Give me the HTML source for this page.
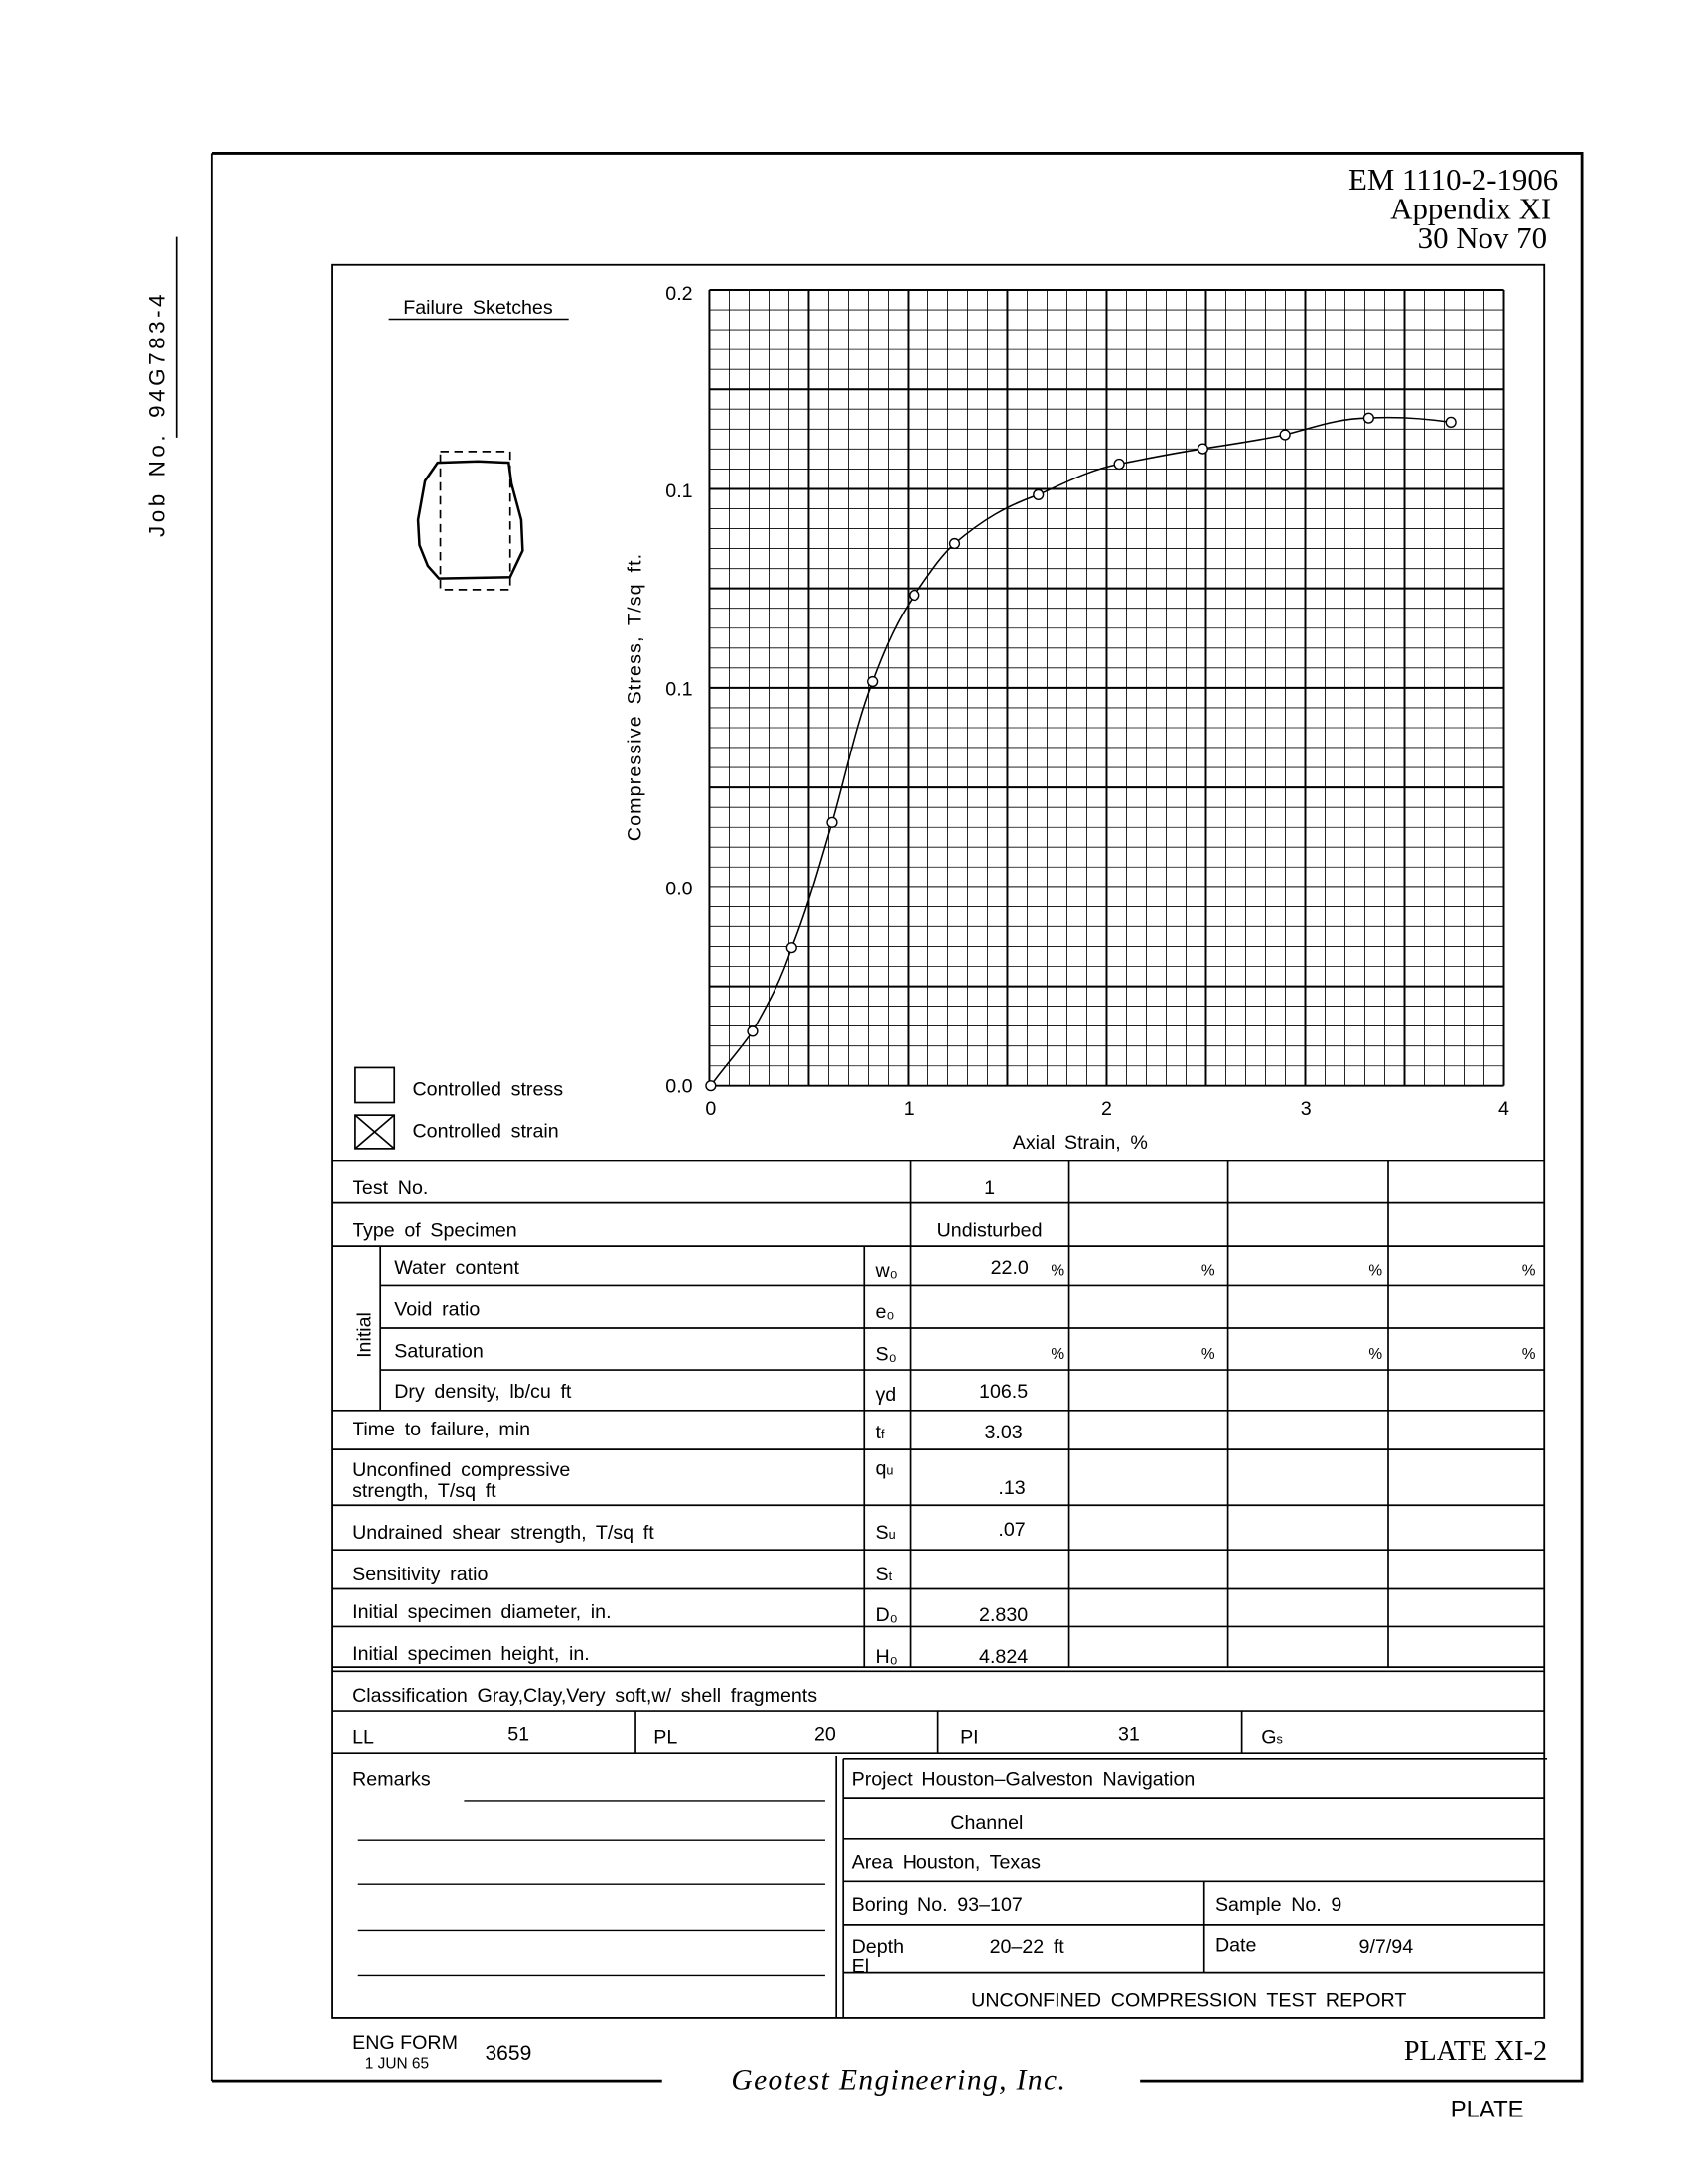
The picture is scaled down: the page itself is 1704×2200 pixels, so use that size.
<!DOCTYPE html>
<html><head><meta charset="utf-8"><style>
html,body{margin:0;padding:0;background:#fff;}
svg{display:block}
text{font-family:"Liberation Sans",sans-serif;fill:#000}
.s{font-family:"Liberation Serif",serif}
.w{word-spacing:3px}
</style></head><body>
<svg width="1704" height="2200" viewBox="0 0 1214 1567" preserveAspectRatio="none" xmlns="http://www.w3.org/2000/svg">
<g stroke="#000" fill="none">
<path d="M152,110 H1135 V1493 H818 M475,1493 H152 Z" stroke-width="2"/>
<line x1="152" y1="110" x2="152" y2="1493" stroke-width="2"/>
<line x1="126.6" y1="170" x2="126.6" y2="314" stroke-width="1.2"/>
<rect x="238" y="190" width="870" height="1258" stroke-width="1.3"/>
</g>
<text x="118" y="297" font-size="16" letter-spacing="2.5" class="w" transform="rotate(-90 118 297)" text-anchor="middle">Job No.  94G783-4</text>
<text class="s" x="1118" y="136" font-size="22" text-anchor="end">EM 1110-2-1906</text>
<text class="s" x="1113" y="157" font-size="22" text-anchor="end">Appendix XI</text>
<text class="s" x="1110" y="178" font-size="22" text-anchor="end">30 Nov 70</text>

<text x="343" y="225" font-size="14" text-anchor="middle" class="w">Failure Sketches</text>
<line x1="279" y1="229" x2="408" y2="229" stroke="#000"/>
<g stroke="#000" fill="none">
<rect x="316" y="324" width="50" height="99" stroke-dasharray="6,4" stroke-width="1.2"/>
<path d="M314,332 L343,331 L365,332 L367,347 L374,373 L375,395 L366,414 L315,415 L307,406 L301,391 L300,373 L305,345 Z" stroke-width="1.8"/>
</g>

<g stroke="#000" fill="none" stroke-width="1.2">
<rect x="255" y="766" width="28" height="25"/>
<rect x="255" y="800" width="28" height="24"/>
<path d="M255,800 L283,824 M283,800 L255,824"/>
</g>
<text x="296" y="786" font-size="14" class="w">Controlled stress</text>
<text x="296" y="816" font-size="14" class="w">Controlled strain</text>

<g stroke="#000" stroke-width="0.6">
<path d="M509,208V779M523.25,208V779M537.5,208V779M551.75,208V779M566,208V779M580.25,208V779M594.5,208V779M608.75,208V779M623,208V779M637.25,208V779M651.5,208V779M665.75,208V779M680,208V779M694.25,208V779M708.5,208V779M722.75,208V779M737,208V779M751.25,208V779M765.5,208V779M779.75,208V779M794,208V779M808.25,208V779M822.5,208V779M836.75,208V779M851,208V779M865.25,208V779M879.5,208V779M893.75,208V779M908,208V779M922.25,208V779M936.5,208V779M950.75,208V779M965,208V779M979.25,208V779M993.5,208V779M1007.75,208V779M1022,208V779M1036.25,208V779M1050.5,208V779M1064.75,208V779M1079,208V779"/>
<path d="M509,208H1079M509,222.3H1079M509,236.5H1079M509,250.8H1079M509,265.1H1079M509,279.4H1079M509,293.6H1079M509,307.9H1079M509,322.2H1079M509,336.5H1079M509,350.8H1079M509,365H1079M509,379.3H1079M509,393.6H1079M509,407.9H1079M509,422.1H1079M509,436.4H1079M509,450.7H1079M509,465H1079M509,479.2H1079M509,493.5H1079M509,507.8H1079M509,522.1H1079M509,536.3H1079M509,550.6H1079M509,564.9H1079M509,579.2H1079M509,593.5H1079M509,607.7H1079M509,622H1079M509,636.3H1079M509,650.6H1079M509,664.8H1079M509,679.1H1079M509,693.4H1079M509,707.7H1079M509,721.9H1079M509,736.2H1079M509,750.5H1079M509,764.8H1079M509,779H1079"/>
</g>
<g stroke="#000" stroke-width="1.4">
<path d="M509,208V779M580.25,208V779M651.5,208V779M722.75,208V779M794,208V779M865.25,208V779M936.5,208V779M1007.75,208V779M1079,208V779"/>
<path d="M509,208H1079M509,279.4H1079M509,350.8H1079M509,422.1H1079M509,493.5H1079M509,564.9H1079M509,636.3H1079M509,707.7H1079M509,779H1079"/>
</g>
<path d="M510,779 C520,765 532,752 540,740 C550,722 560,705 568,680 C580,650 588,620 597,590 C607,555 614,520 626,489 C636,462 644,445 656,427 C666,413 674,400 685,390 C705,373 722,363 745,355 C765,346 782,337 803,333 C823,329 843,325 863,322 C883,319 903,316 922,312 C942,307 960,300 982,300 C1000,299 1020,300 1041,303" stroke="#000" fill="none" stroke-width="1.1"/>
<g stroke="#000" fill="#fff" stroke-width="1">
<circle cx="510" cy="779" r="3.5"/><circle cx="540" cy="740" r="3.5"/><circle cx="568" cy="680" r="3.5"/><circle cx="597" cy="590" r="3.5"/><circle cx="626" cy="489" r="3.5"/><circle cx="656" cy="427" r="3.5"/><circle cx="685" cy="390" r="3.5"/><circle cx="745" cy="355" r="3.5"/><circle cx="803" cy="333" r="3.5"/><circle cx="863" cy="322" r="3.5"/><circle cx="922" cy="312" r="3.5"/><circle cx="982" cy="300" r="3.5"/><circle cx="1041" cy="303" r="3.5"/>
</g>
<g font-size="14" text-anchor="end">
<text x="497" y="215">0.2</text><text x="497" y="357">0.1</text><text x="497" y="499">0.1</text><text x="497" y="642">0.0</text><text x="497" y="784">0.0</text>
</g>
<g font-size="14" text-anchor="middle">
<text x="510" y="800">0</text><text x="652" y="800">1</text><text x="794" y="800">2</text><text x="937" y="800">3</text><text x="1079" y="800">4</text>
<text x="775" y="824" class="w">Axial Strain, %</text>
</g>
<text x="460" y="500" font-size="14" class="w" letter-spacing="0.8" text-anchor="middle" transform="rotate(-90 460 500)">Compressive Stress, T/sq ft.</text>

<g stroke="#000" stroke-width="1.2" fill="none">
<path d="M238,833H1108M238,863H1108M238,894H1108M273,922H1108M273,953H1108M273,983H1108M238,1012H1108M238,1040H1108M238,1080H1108M238,1112H1108M238,1140H1108M238,1167H1108M238,1196H1108M238,1199H1108M238,1228H1108M238,1258H1108"/>
<path d="M273,894V1012M620,894V1196M653,833V1196M767,833V1196M881,833V1196M996,833V1196M456,1228V1258M673,1228V1258M891,1228V1258"/>
<path d="M600,1260V1448M605,1262V1448M605,1262H1110M605,1290H1108M605,1319H1108M605,1350H1108M605,1381H1108M605,1415H1108M864,1350V1415"/>
<path d="M333,1292H592M257,1320H592M257,1352H592M257,1385H592M257,1417H592" stroke-width="1"/>
</g>
<g font-size="14" class="w">
<text x="253" y="857">Test No.</text><text x="710" y="857" text-anchor="middle">1</text>
<text x="253" y="887">Type of Specimen</text><text x="710" y="887" text-anchor="middle">Undisturbed</text>
<text x="283" y="914">Water content</text><text x="628" y="916">w₀</text><text x="738" y="914" text-anchor="end">22.0</text>
<text x="283" y="944">Void ratio</text><text x="628" y="946">e₀</text>
<text x="283" y="974">Saturation</text><text x="628" y="976">S₀</text>
<text x="283" y="1003">Dry density, lb/cu ft</text><text x="628" y="1005">γd</text><text x="720" y="1003" text-anchor="middle">106.5</text>
<text x="253" y="1030">Time to failure, min</text><text x="628" y="1032">t<tspan font-size="9">f</tspan></text><text x="720" y="1032" text-anchor="middle">3.03</text>
<text x="253" y="1059">Unconfined compressive</text><text x="253" y="1074">strength, T/sq ft</text><text x="628" y="1058">q<tspan font-size="9">u</tspan></text><text x="726" y="1072" text-anchor="middle">.13</text>
<text x="253" y="1104">Undrained shear strength, T/sq ft</text><text x="628" y="1104">S<tspan font-size="9">u</tspan></text><text x="726" y="1102" text-anchor="middle">.07</text>
<text x="253" y="1134">Sensitivity ratio</text><text x="628" y="1134">S<tspan font-size="9">t</tspan></text>
<text x="253" y="1161">Initial specimen diameter, in.</text><text x="628" y="1163">D₀</text><text x="720" y="1163" text-anchor="middle">2.830</text>
<text x="253" y="1191">Initial specimen height, in.</text><text x="628" y="1193">H₀</text><text x="720" y="1193" text-anchor="middle">4.824</text>
<text x="253" y="1221">Classification  Gray,Clay,Very soft,w/  shell fragments</text>
<text x="253" y="1251">LL</text><text x="372" y="1249" text-anchor="middle">51</text>
<text x="469" y="1251">PL</text><text x="592" y="1249" text-anchor="middle">20</text>
<text x="689" y="1251">PI</text><text x="810" y="1249" text-anchor="middle">31</text>
<text x="905" y="1251">G<tspan font-size="9">s</tspan></text>
<text x="253" y="1281">Remarks</text>
<text x="611" y="1281">Project   Houston–Galveston Navigation</text>
<text x="682" y="1312">Channel</text>
<text x="611" y="1341">Area   Houston, Texas</text>
<text x="611" y="1371">Boring No.   93–107</text><text x="872" y="1371">Sample No.  9</text>
<text x="611" y="1401">Depth</text><text x="611" y="1415">El</text><text x="710" y="1401">20–22  ft</text>
<text x="872" y="1400">Date</text><text x="975" y="1401">9/7/94</text>
<text x="853" y="1440" text-anchor="middle">UNCONFINED COMPRESSION TEST REPORT</text>
</g>
<g font-size="11">
<text x="754" y="915">%</text><text x="862" y="915">%</text><text x="982" y="915">%</text><text x="1092" y="915">%</text>
<text x="754" y="975">%</text><text x="862" y="975">%</text><text x="982" y="975">%</text><text x="1092" y="975">%</text>
</g>
<text x="266" y="958" font-size="14" transform="rotate(-90 266 958)" text-anchor="middle">Initial</text>

<text x="253" y="1470" font-size="14">ENG FORM</text>
<text x="262" y="1484" font-size="11">1 JUN 65</text>
<text x="348" y="1478" font-size="15">3659</text>
<text class="s" x="1110" y="1478" font-size="20" text-anchor="end">PLATE XI-2</text>
<text class="s" x="645" y="1499" font-size="21" font-style="italic" text-anchor="middle" letter-spacing="1">Geotest Engineering, Inc.</text>
<text x="1067" y="1519" font-size="17" text-anchor="middle">PLATE</text>
</svg>
</body></html>
